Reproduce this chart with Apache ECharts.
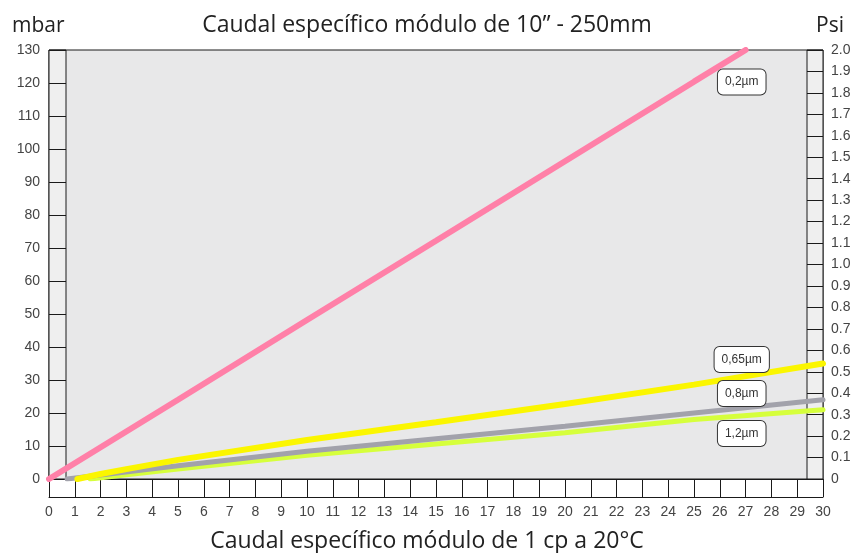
<!DOCTYPE html>
<html>
<head>
<meta charset="utf-8">
<script src="https://cdn.jsdelivr.net/npm/echarts@6/dist/echarts.min.js"></script>
<style>
html,body{margin:0;padding:0;background:#fff;}
#c{width:854px;height:553px;}
</style>
</head>
<body>
<div id="c"></div>
<script>
const titleTop = 'Caudal específico módulo de 10” - 250mm';
const titleBottom = 'Caudal específico módulo de 1 cp a 20°C';
const leftUnit = 'mbar';
const rightUnit = 'Psi';
const seriesNames = ['0,2µm', '0,65µm', '0,8µm', '1,2µm'];
const s02 = [[0,0],[5,24],[10,48.2],[15,72.2],[20,96.3],[25,120.4],[27,130]];
const s065 = [[1.1,0],[2,1.5],[3,3],[5,5.8],[10,11.8],[15,17.2],[20,22.7],[25,28.6],[30,35]];
const s08 = [[0.7,0],[2,1.2],[5,4],[10,8.4],[15,12.2],[20,16],[25,20],[30,24]];
const s12 = [[1.6,0],[3,1.3],[5,3],[10,7.2],[15,10.6],[20,14],[25,18],[30,21]];
const labelAnchors = [[26.85,120.3],[26.85,36.2],[26.85,25.9],[26.85,13.8]];

const chart = echarts.init(document.getElementById('c'));
const tickFont = {fontFamily:'Liberation Sans', fontSize:14, color:'#444'};
const titleFont = {fontFamily:'Open Sans', fontSize:23, fontWeight:'normal', color:'#222'};
const unitFont = {fontFamily:'Open Sans', fontSize:21, fontWeight:'normal', color:'#222'};
const frame = '#1a1a1a';
function boxLabel(i){
  return {
    symbol:'rect', symbolSize:1, itemStyle:{color:'rgba(0,0,0,0)'},
    data:[{coord:labelAnchors[i], name:seriesNames[i]}],
    label:{show:true, position:'inside', formatter:seriesNames[i], fontFamily:'Liberation Sans', fontSize:12, color:'#333',
      backgroundColor:'#fff', borderColor:'#333', borderWidth:1, borderRadius:5, padding:[7,7,6,7]}
  };
}
function line(name, data, color, width, i){
  return {type:'line', name:name, data:data, xAxisIndex:0, yAxisIndex:0, showSymbol:false, smooth:false,
    lineStyle:{color:color, width:width, cap:'round'}, itemStyle:{color:color}, silent:true, animation:false,
    markPoint: boxLabel(i)};
}
const hiddenX = (g)=>({type:'value', gridIndex:g, min:0, max:1, show:false});
chart.setOption({
  animation:false,
  backgroundColor:'#fff',
  title:[
    {text:titleTop, left:'center', top:9, textStyle:titleFont},
    {text:leftUnit, left:7, top:11, textStyle:unitFont},
    {text:rightUnit, right:5, top:11, textStyle:unitFont},
    {text:titleBottom, left:'center', top:525, textStyle:titleFont}
  ],
  grid:[
    {left:49, right:31, top:50, bottom:74, show:true, backgroundColor:'#e8e8e9', borderColor:frame, borderWidth:1},
    {left:49, width:17, top:50, bottom:74, show:true, backgroundColor:'#efefef', borderColor:frame, borderWidth:1},
    {right:31, width:16, top:50, bottom:74, show:true, backgroundColor:'#efefef', borderColor:frame, borderWidth:1}
  ],
  xAxis:[
    {type:'value', gridIndex:0, min:0, max:30, interval:1, position:'bottom',
     axisLine:{show:true, lineStyle:{color:frame, width:1}},
     axisTick:{show:true, inside:false, length:18, lineStyle:{color:frame}},
     axisLabel:{...tickFont, margin:26},
     splitLine:{show:false}},
    {type:'value', gridIndex:0, min:0, max:30, position:'bottom', offset:18,
     axisLine:{show:true, lineStyle:{color:frame, width:1}},
     axisTick:{show:false}, axisLabel:{show:false}, splitLine:{show:false}},
    hiddenX(1), hiddenX(2)
  ],
  yAxis:[
    {type:'value', gridIndex:0, min:0, max:130, show:false},
    {type:'value', gridIndex:1, min:0, max:130, interval:10, position:'left',
     axisLine:{show:false}, axisTick:{show:false},
     axisLabel:{...tickFont, margin:9},
     splitLine:{show:true, lineStyle:{color:frame, width:1}}},
    {type:'value', gridIndex:2, min:0, max:2, interval:0.1, position:'right',
     axisLine:{show:false}, axisTick:{show:false},
     axisLabel:{...tickFont, margin:8, formatter:function(v){return Math.abs(v)<1e-9?'0':v.toFixed(1);}},
     splitLine:{show:true, lineStyle:{color:frame, width:1}}}
  ],
  series:[
    line(seriesNames[3], s12, '#d6ff3c', 5, 3),
    line(seriesNames[2], s08, '#a2a2ab', 5, 2),
    line(seriesNames[1], s065, '#fbf600', 6, 1),
    line(seriesNames[0], s02, '#ff80a8', 6, 0)
  ]
});
</script>
</body>
</html>
